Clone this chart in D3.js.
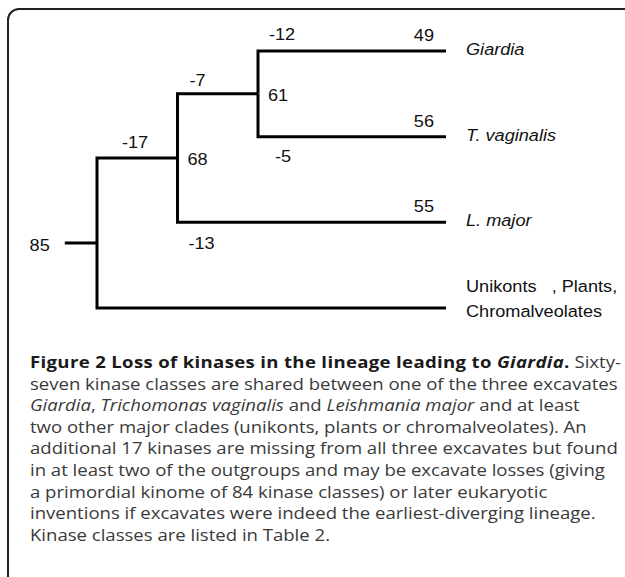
<!DOCTYPE html>
<html>
<head>
<meta charset="utf-8">
<script src="https://cdn.jsdelivr.net/npm/d3@7"></script>
<style>
  html, body { margin: 0; padding: 0; background: #fff; }
  svg { display: block; }
  .tree text { font-family: "Liberation Sans", Arial, sans-serif; font-size: 16.5px; fill: #111; white-space: pre; }
  .caption { font-family: "Open Sans", "Noto Sans", sans-serif; font-size: 16px; fill: #3a3a3a; }
</style>
</head>
<body>
<div class="chart-wrapper"></div>
<script>
// tree nodes (id, parent) with kinase counts and losses along each branch
var ids       = ["root", "n68", "n61", "Giardia", "T. vaginalis", "L. major", "Outgroups"];
var parentIds = ["",     "root", "n68", "n61",    "n61",          "n68",      "root"];
var counts    = [85,     68,    61,    49,        56,             55,         null];
var losses    = [null,   -17,   -7,    -12,       -5,             -13,        null];

// tip labels (italic species names, plain outgroup text)
var tipLines = {
  "Giardia": ["Giardia"],
  "T. vaginalis": ["T. vaginalis"],
  "L. major": ["L. major"],
  "Outgroups": ["Unikonts   , Plants,", "Chromalveolates"]
};
var italicTips = ["Giardia", "T. vaginalis", "L. major"];

// caption, one array of [text, style] pieces per line
var caption = [
  [["Figure 2 Loss of kinases in the lineage leading to ", "b"], ["Giardia", "bi"], [".", "b"], [" Sixty-", ""]],
  [["seven kinase classes are shared between one of the three excavates", ""]],
  [["Giardia", "i"], [", ", ""], ["Trichomonas vaginalis", "i"], [" and ", ""], ["Leishmania major", "i"], [" and at least", ""]],
  [["two other major clades (unikonts, plants or chromalveolates). An", ""]],
  [["additional 17 kinases are missing from all three excavates but found", ""]],
  [["in at least two of the outgroups and may be excavate losses (giving", ""]],
  [["a primordial kinome of 84 kinase classes) or later eukaryotic", ""]],
  [["inventions if excavates were indeed the earliest-diverging lineage.", ""]],
  [["Kinase classes are listed in Table 2.", ""]]
];

var width = 625, height = 577;
// the figure's lettering is a little wider than tall
var stretch = 1.1, capStretch = 1.16;

var svg = d3.select(".chart-wrapper").append("svg")
  .attr("width", width)
  .attr("height", height);

// frame round the figure (runs off the right and bottom edges)
svg.append("rect")
  .attr("x", 8).attr("y", 9)
  .attr("width", 630).attr("height", 585)
  .attr("rx", 11)
  .attr("fill", "none")
  .attr("stroke", "#222")
  .attr("stroke-width", 2);

var table = ids.map(function(id, i) {
  return {id: id, parent: parentIds[i], count: counts[i], loss: losses[i]};
});
var root = d3.stratify()
  .id(function(d) { return d.id; })
  .parentId(function(d) { return d.parent || null; })(table);

var leaves = root.leaves();

// scales: leaves evenly down the page, inner nodes by depth, tips aligned
var y = d3.scalePoint().domain(leaves.map(function(d) { return d.id; })).range([51, 308]);
var xDepth = d3.scaleLinear().domain([0, 2]).range([97, 258]);
var tipX = 446;

root.eachAfter(function(d) {
  if (d.children) {
    d.x = xDepth(d.depth);
    d.y = d3.mean(d.children, function(c) { return c.y; });
  } else {
    d.x = tipX;
    d.y = y(d.id);
  }
});
// the drawn root stub sits a little below the midpoint
var stubY = root.y + 10;

var g = svg.append("g").attr("class", "tree");

function place(x, y) {
  return "translate(" + x + "," + y + ") scale(" + stretch + ",1)";
}

// branches as elbows
g.selectAll("path.link")
  .data(root.descendants().slice(1))
  .enter().append("path")
  .attr("class", "link")
  .attr("d", function(d) {
    return "M" + d.parent.x + "," + d.parent.y + "V" + d.y + "H" + d.x;
  })
  .attr("fill", "none")
  .attr("stroke", "#000")
  .attr("stroke-width", 3)
  .attr("stroke-linejoin", "miter");

// root stub
g.append("line")
  .attr("x1", xDepth(-0.4)).attr("x2", root.x)
  .attr("y1", stubY).attr("y2", stubY)
  .attr("stroke", "#000")
  .attr("stroke-width", 3);

// where each loss label sits relative to its branch
var lossPlace = {
  "n68": [25, -10], "n61": [12, -8], "Giardia": [11, -11],
  "T. vaginalis": [17, 25], "L. major": [11, 27]
};

g.selectAll("text.loss")
  .data(root.descendants().filter(function(d) { return d.data.loss != null; }))
  .enter().append("text")
  .attr("class", "loss")
  .attr("transform", function(d) {
    return place(d.parent.x + lossPlace[d.id][0], d.y + lossPlace[d.id][1]);
  })
  .text(function(d) { return d.data.loss; });

// counts at inner nodes
g.selectAll("text.node-count")
  .data(root.descendants().filter(function(d) { return d.children && d !== root; }))
  .enter().append("text")
  .attr("class", "node-count")
  .attr("transform", function(d) { return place(d.x + 10, d.y + 7); })
  .text(function(d) { return d.data.count; });

g.append("text")
  .attr("transform", place(xDepth(-0.4) - 15, stubY + 8))
  .attr("text-anchor", "end")
  .text(root.data.count);

// counts at tips
g.selectAll("text.tip-count")
  .data(leaves.filter(function(d) { return d.data.count != null; }))
  .enter().append("text")
  .attr("class", "tip-count")
  .attr("transform", function(d) { return place(tipX - 12, d.y - 10); })
  .attr("text-anchor", "end")
  .text(function(d) { return d.data.count; });

// tip names
leaves.forEach(function(d) {
  var lines = tipLines[d.id];
  var t = g.append("text")
    .attr("transform", place(tipX + 20, lines.length > 1 ? d.y - 16 : d.y + 4))
    .style("font-style", italicTips.indexOf(d.id) >= 0 ? "italic" : "normal");
  lines.forEach(function(line, i) {
    t.append("tspan")
      .attr("x", 0)
      .attr("dy", i ? 25 : 0)
      .text(line);
  });
});

// caption
var cap = svg.append("text")
  .attr("class", "caption")
  .attr("transform", "translate(30,0) scale(" + capStretch + ",1)");
caption.forEach(function(line, i) {
  line.forEach(function(piece, j) {
    var ts = cap.append("tspan").text(piece[0]);
    if (j === 0) ts.attr("x", 0).attr("y", 368 + i * 21.6);
    if (piece[1].indexOf("b") >= 0) {
      ts.style("font-weight", "bold").style("fill", "#1a1a1a").style("letter-spacing", "0.3px");
    }
    if (piece[1].indexOf("i") >= 0) ts.style("font-style", "italic");
  });
});
</script>
</body>
</html>
